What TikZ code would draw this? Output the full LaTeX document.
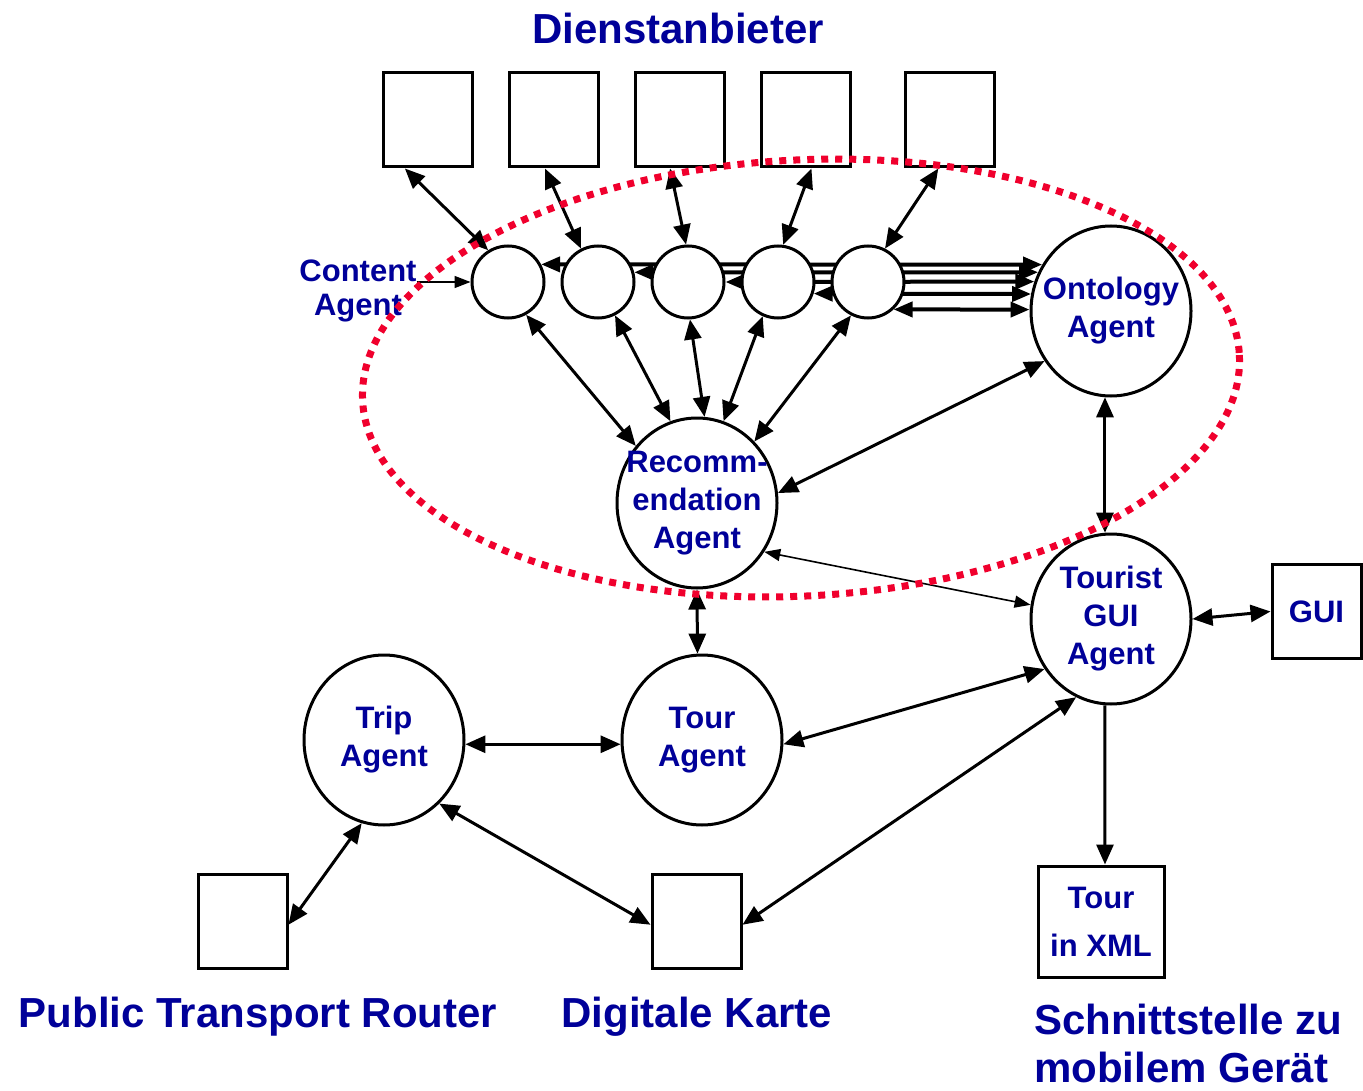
\documentclass[tikz,border=0pt]{standalone}
\usepackage{fontspec}
\setmainfont{Liberation Sans}
\usetikzlibrary{
  arrows.meta,
  backgrounds,
  shapes.geometric
}
\definecolor{agBlue}{HTML}{000099}
\definecolor{agRed}{HTML}{F0002D}
\definecolor{agInk}{HTML}{000000}
\tikzset{
  font=\bfseries,
  heading/.style={font=\fontsize{42}{48}\selectfont\bfseries, text=agBlue, inner sep=0pt},
  caption/.style={font=\fontsize{42}{48}\selectfont\bfseries, text=agBlue, align=left, inner sep=0pt},
  agent/.style={
    ellipse,
    draw=agInk,
    line width=3pt,
    fill=white,
    minimum width=160pt,
    minimum height=170pt,
    inner xsep=-16pt,
    inner ysep=0pt,
    align=center,
    text=agBlue,
    font=\fontsize{31}{38}\selectfont\bfseries
  },
  subagent/.style={circle, draw=agInk, line width=3pt, fill=white, minimum size=72pt, inner sep=0pt},
  service/.style={
    rectangle,
    draw=agInk,
    line width=3pt,
    fill=white,
    minimum width=89pt,
    minimum height=94pt,
    inner sep=0pt,
    align=center,
    text=agBlue,
    font=\fontsize{31}{38}\selectfont\bfseries
  },
  link/.style={<->, >={Triangle[length=20pt,width=17pt]}, line width=3pt, draw=agInk},
  busline/.style={<->, >={Triangle[length=19pt,width=15pt]}, line width=4pt, draw=agInk},
  thinlink/.style={<->, >={Triangle[length=16pt,width=12pt]}, line width=1.6pt, draw=agInk},
  feed/.style={->, >={Triangle[length=20pt,width=17pt]}, line width=3pt, draw=agInk},
  thinfeed/.style={->, >={Triangle[length=16pt,width=12pt]}, line width=1.6pt, draw=agInk},
  ring/.style={draw=agRed, line width=7pt, dash pattern=on 7pt off 7pt}
}

\begin{document}
\begin{tikzpicture}[x=1pt,y=-1pt]

\useasboundingbox (0,0) rectangle (1363,1091);

% --------------------------------------------------------------------------
% Service providers
% --------------------------------------------------------------------------
\node[heading] (provider) at (678,28) {Dienstanbieter};

\node[service] (box1) at (427.5,120) {};
\node[service] (box2) at (553.5,120) {};
\node[service] (box3) at (679.5,120) {};
\node[service] (box4) at (805.5,120) {};
\node[service] (box5) at (949.5,120) {};

% --------------------------------------------------------------------------
% Content agents
% --------------------------------------------------------------------------
\node[subagent] (c1) at (508,282) {};
\node[subagent] (c2) at (598,282) {};
\node[subagent] (c3) at (688,282) {};
\node[subagent] (c4) at (778,282) {};
\node[subagent] (c5) at (868,282) {};

\node[text=agBlue, align=center, inner sep=0pt,
  font=\fontsize{31}{34}\selectfont\bfseries] (content) at (358,291) {Content\\Agent};

% --------------------------------------------------------------------------
% Agents
% --------------------------------------------------------------------------
\node[agent] (onto) at (1111,311) {Ontology\\Agent};
\node[agent] (rec) at (697,503) {Recomm-\\endation\\Agent};
\node[agent] (tgui) at (1111,619) {Tourist\\GUI\\Agent};
\node[agent] (tour) at (702,740) {Tour\\Agent};
\node[agent] (trip) at (384,740) {Trip\\Agent};

\node[service] (gui) at (1316.5,611.5) {GUI};
\node[service] (ptbox) at (242.5,921.5) {};
\node[service] (map) at (696.5,921.5) {};
\node[service, minimum width=126pt, minimum height=111pt,
  font=\fontsize{31}{48}\selectfont\bfseries] (xml) at (1101,921.5) {Tour\\in XML};

\node[heading] (ptlabel) at (258,1017) {Public Transport Router};
\node[heading] (maplabel) at (697,1017) {Digitale Karte};
\node[caption, anchor=west] (devlabel) at (1034,1043) {Schnittstelle zu\\mobilem Gerät};

% --------------------------------------------------------------------------
% Connections
% --------------------------------------------------------------------------
\begin{scope}[on background layer]
  \draw[busline] (c1.28) -- (onto.146);
  \draw[busline] (c2.15) -- (onto.152);
  \draw[busline] (c3.0) -- (onto.159);
  \draw[busline] (c4.-18) -- (onto.168);
  \draw[busline] (c5.-47) -- (onto.179);
\end{scope}

\draw[link] (box1.-115) -- (c1.122);
\draw[link] (box2.-100) -- (c2.117);
\draw[link] (box3.-101) -- (c3.93);
\draw[link] (box4.-83) -- (c4.82);
\draw[link] (box5.-103) -- (c5.63);

\draw[thinfeed] (content.east |- c1.west) -- (c1.west);

\draw[link] (c1.-61) -- (rec.137);
\draw[link] (c2.-63) -- (rec.108);
\draw[link] (c3.-87) -- (rec.85);
\draw[link] (c4.-114) -- (rec.72);
\draw[link] (c5.-117) -- (rec.47);

\draw[link] (onto.-143) -- (rec.7);
\draw[link] (onto.-94) -- (tgui.94);
\draw[thinlink] (tgui.170) -- (rec.-36);
\draw[link] (rec.-90) -- (tour.93);
\draw[link] (tgui.east) -- (gui.west);
\draw[link] (tgui.-143) -- (tour.-3);
\draw[link] (trip.-3) -- (tour.183);
\draw[link] (trip.-105) -- (ptbox.-4);
\draw[link] (trip.-49) -- (map.184);
\draw[link] (tgui.-114) -- (map.-4);
\draw[feed] (tgui.-94) -- (xml.86);

% --------------------------------------------------------------------------
% Agent platform
% --------------------------------------------------------------------------
\draw[ring, rotate around={3:(801,378)}] (801,378) ellipse [x radius=439, y radius=218];

\end{tikzpicture}
\end{document}
